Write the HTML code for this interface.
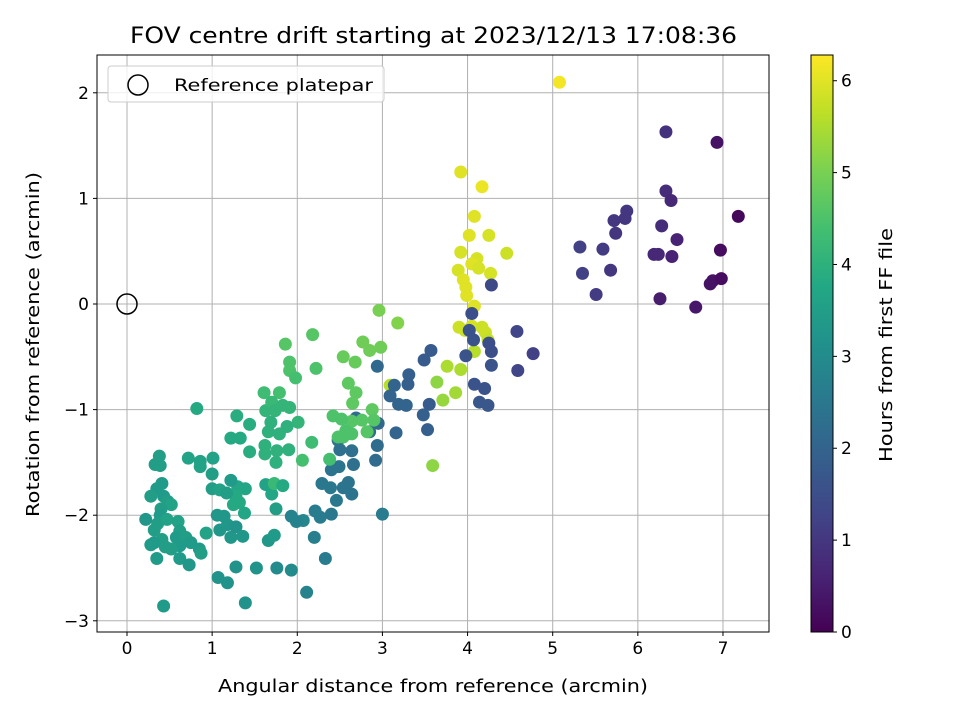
<!DOCTYPE html>
<html><head><meta charset="utf-8"><style>
body{margin:0;background:#fff;}
svg text{font-family:"DejaVu Sans","Liberation Sans",sans-serif;fill:#000;}
</style></head><body>
<svg id="chart" width="960" height="720" xmlns="http://www.w3.org/2000/svg">
<defs><linearGradient id="vir" x1="0" y1="1" x2="0" y2="0">
<stop offset="0" stop-color="#440154"/><stop offset="0.1" stop-color="#482475"/><stop offset="0.2" stop-color="#414487"/><stop offset="0.3" stop-color="#355f8d"/><stop offset="0.4" stop-color="#2a788e"/><stop offset="0.5" stop-color="#21918c"/><stop offset="0.6" stop-color="#22a884"/><stop offset="0.7" stop-color="#44bf70"/><stop offset="0.8" stop-color="#7ad151"/><stop offset="0.9" stop-color="#bddf26"/><stop offset="1" stop-color="#fde725"/>
</linearGradient>
<clipPath id="clip"><rect x="97" y="55" width="672" height="577"/></clipPath></defs>
<g id="grid"></g><g id="marks" clip-path="url(#clip)"></g><g id="axes"></g>
</svg>
<script>
const xVals=[6.33,6.93,6.33,6.39,5.87,5.72,5.85,5.74,6.28,6.46,5.32,5.59,6.19,6.24,6.40,6.97,7.18,5.35,5.68,5.51,6.26,6.85,6.88,6.98,6.68,
5.08,3.92,4.17,4.08,4.02,4.25,3.92,4.11,4.46,4.05,3.89,4.13,4.27,3.95,3.98,3.99,4.08,3.90,3.97,4.05,4.17,4.21,4.24,4.08,3.92,3.76,3.64,3.71,3.86,3.09,3.59,
4.28,4.05,4.02,4.07,3.98,4.25,4.28,4.28,4.58,4.77,4.59,4.08,4.20,4.14,4.24,3.57,3.49,2.94,3.31,3.30,3.14,3.09,3.19,3.28,3.55,3.48,3.53,3.16,2.95,2.85,2.94,2.92,3.00,2.69,2.48,2.50,2.64,2.40,2.49,2.66,2.60,2.29,2.54,2.39,2.64,2.46,2.21,2.27,2.40,2.07,2.20,1.99,1.93,2.33,2.11,1.93,1.76,
2.96,3.18,2.98,2.77,2.85,2.68,2.54,2.60,2.69,2.65,2.88,2.90,2.76,2.64,2.42,2.52,2.57,2.48,2.54,2.64,2.82,2.38,2.18,2.22,1.86,1.91,1.91,1.98,1.79,1.61,2.06,2.17,
0.82,1.29,1.63,1.70,1.74,1.83,1.91,2.01,1.88,1.69,1.66,1.79,1.44,1.22,1.33,1.44,1.62,1.62,1.76,1.90,1.75,1.63,1.70,1.73,1.83,1.30,1.39,1.28,1.32,1.38,1.25,1.75,1.52,1.66,1.73,
0.38,0.39,0.33,0.41,0.35,0.43,0.28,0.48,0.52,0.40,0.39,0.36,0.32,0.47,0.60,0.62,0.58,0.69,0.75,0.62,0.52,0.45,0.41,0.32,0.28,0.35,0.62,0.73,0.43,0.85,0.87,0.93,0.72,0.86,0.86,1.01,1.00,1.00,1.09,1.17,1.22,1.06,1.14,1.18,1.09,1.22,1.28,1.36,1.07,1.18,1.28,1.39,0.22];
const yVals=[1.63,1.53,1.07,0.98,0.88,0.79,0.81,0.67,0.74,0.61,0.54,0.52,0.47,0.47,0.45,0.51,0.83,0.29,0.32,0.09,0.05,0.19,0.22,0.24,-0.03,
2.10,1.25,1.11,0.83,0.65,0.65,0.49,0.43,0.48,0.38,0.32,0.34,0.29,0.23,0.16,0.08,-0.02,-0.22,-0.25,-0.21,-0.22,-0.27,-0.34,-0.45,-0.62,-0.59,-0.74,-0.91,-0.84,-0.77,-1.53,
0.18,-0.09,-0.25,-0.34,-0.49,-0.37,-0.45,-0.58,-0.26,-0.47,-0.63,-0.76,-0.80,-0.93,-0.96,-0.44,-0.53,-0.59,-0.67,-0.76,-0.77,-0.87,-0.95,-0.96,-0.95,-1.05,-1.19,-1.22,-1.13,-1.21,-1.34,-1.48,-1.99,-1.08,-1.29,-1.38,-1.39,-1.57,-1.54,-1.52,-1.69,-1.70,-1.74,-1.74,-1.80,-1.86,-1.96,-2.02,-1.99,-2.05,-2.21,-2.06,-2.01,-2.41,-2.73,-2.52,-2.50,
-0.06,-0.18,-0.41,-0.36,-0.44,-0.55,-0.50,-0.75,-0.84,-0.94,-1.00,-1.10,-1.10,-1.11,-1.06,-1.09,-1.20,-1.26,-1.26,-1.23,-1.21,-1.47,-0.29,-0.61,-0.38,-0.55,-0.63,-0.70,-0.84,-0.84,-1.48,-1.31,
-0.99,-1.06,-1.01,-0.93,-1.01,-0.96,-0.98,-1.12,-1.16,-1.12,-1.21,-1.23,-1.14,-1.27,-1.27,-1.40,-1.34,-1.42,-1.39,-1.38,-1.50,-1.71,-1.80,-1.70,-1.72,-1.73,-1.75,-1.82,-1.88,-1.98,-1.90,-1.94,-2.50,-2.24,-2.19,
-1.44,-1.53,-1.52,-1.70,-1.75,-1.82,-1.82,-1.87,-1.90,-1.94,-2.00,-2.08,-2.14,-2.04,-2.06,-2.15,-2.21,-2.21,-2.26,-2.29,-2.32,-2.30,-2.23,-2.26,-2.28,-2.41,-2.41,-2.47,-2.86,-2.32,-2.36,-2.17,-1.46,-1.49,-1.54,-1.46,-1.61,-1.75,-1.76,-1.79,-1.67,-2.00,-2.01,-2.09,-2.14,-2.21,-2.11,-2.20,-2.59,-2.64,-2.49,-2.83,-2.04];
const hourVals=[0.9,0.3,0.8,0.7,1.0,1.0,1.0,1.0,0.8,0.6,1.2,1.1,0.7,0.7,0.6,0.2,0.1,1.2,1.0,1.1,0.5,0.3,0.3,0.2,0.4,
6.2,6.0,6.1,6.0,6.0,5.9,5.9,5.9,5.8,6.0,5.9,5.9,5.9,6.0,6.0,6.0,6.0,5.8,5.8,5.9,5.8,5.8,5.7,5.6,5.5,5.5,5.2,5.3,5.4,5.6,5.2,
1.4,1.5,1.6,1.6,1.6,1.5,1.5,1.6,1.3,1.2,1.3,1.6,1.6,1.7,1.7,1.8,1.8,2.1,1.9,1.9,2.0,2.0,2.0,2.0,1.8,1.9,1.9,2.0,2.1,2.2,2.2,2.2,2.6,2.2,2.3,2.3,2.3,2.4,2.4,2.3,2.4,2.5,2.4,2.5,2.4,2.5,2.6,2.6,2.5,2.9,2.7,2.8,2.8,2.6,2.8,3.0,3.0,
5.0,5.1,4.9,4.9,4.9,4.8,4.8,4.7,4.7,4.7,4.7,4.6,4.6,4.6,4.5,4.5,4.5,4.5,4.5,4.5,4.6,4.4,4.6,4.5,4.6,4.5,4.5,4.4,4.4,4.3,4.4,4.3,
3.8,3.9,4.1,4.2,4.1,4.1,4.1,4.1,4.0,4.0,4.0,4.0,3.9,3.8,3.8,3.9,4.0,4.0,4.0,4.0,4.0,3.6,3.7,4.2,3.8,3.7,3.7,3.8,3.8,3.7,3.8,3.5,3.2,3.3,3.4,
3.5,3.5,3.5,3.4,3.4,3.4,3.5,3.5,3.6,3.5,3.4,3.5,3.5,3.6,3.6,3.5,3.4,3.5,3.4,3.4,3.5,3.5,3.5,3.4,3.4,3.4,3.4,3.3,3.4,3.4,3.5,3.6,3.6,3.6,3.6,3.6,3.5,3.5,3.6,3.5,3.4,3.3,3.3,3.3,3.3,3.3,3.2,3.3,3.2,3.2,3.2,3.2,3.3];
const xTicks=[0,1,2,3,4,5,6,7];
const yTicks=[-3,-2,-1,0,1,2];
const cTicks=[0,1,2,3,4,5,6];
const hMax=6.28;
const NS="http://www.w3.org/2000/svg";
const L=97,R=769,T=55,B=632;
const sx=v=>127+v*85.14, sy=v=>304-v*105.6;
const cy=v=>632-v/hMax*577;
const stops=["#440154","#482475","#414487","#355f8d","#2a788e","#21918c","#22a884","#44bf70","#7ad151","#bddf26","#fde725"];
function hex(c){return [1,3,5].map(i=>parseInt(c.substr(i,2),16));}
function vir(t){t=Math.max(0,Math.min(1,t))*10;const i=Math.min(9,Math.floor(t)),f=t-i;const a=hex(stops[i]),b=hex(stops[i+1]);return "rgb("+a.map((v,k)=>Math.round(v+(b[k]-v)*f)).join(",")+")";}
function mk(tag,at,parent,txt){const e=document.createElementNS(NS,tag);for(const k in at)e.setAttribute(k,at[k]);if(txt!==undefined)e.textContent=txt;parent.appendChild(e);return e;}
const grid=document.getElementById('grid'),marks=document.getElementById('marks'),axes=document.getElementById('axes');
xTicks.forEach(v=>{const g=mk('line',{x1:sx(v),x2:sx(v),y1:T,y2:B,stroke:'#b0b0b0','stroke-width':1},grid);
mk('line',{x1:sx(v),x2:sx(v),y1:B,y2:B+4,stroke:'#000'},axes);
const lb=mk('text',{x:sx(v),y:B+22,'text-anchor':'middle','font-size':17},axes,String(v));});
yTicks.forEach(v=>{const g=mk('line',{x1:L,x2:R,y1:sy(v),y2:sy(v),stroke:'#b0b0b0','stroke-width':1},grid);
mk('line',{x1:L-4,x2:L,y1:sy(v),y2:sy(v),stroke:'#000'},axes);
const lb=mk('text',{x:L-8,y:sy(v)+6,'text-anchor':'end','font-size':17},axes,v<0?'\u2212'+(-v):String(v));});
xVals.forEach((x,i)=>{const c=mk('circle',{cx:sx(x),cy:sy(yVals[i]),r:6.5,fill:vir(hourVals[i]/hMax)},marks);});
const ref=mk('circle',{cx:sx(0),cy:sy(0),r:10,fill:'none',stroke:'#000','stroke-width':1.5},marks);
const fr=mk('rect',{x:L,y:T,width:R-L,height:B-T,fill:'none',stroke:'#000','stroke-width':1},axes);
const lg=mk('g',{},axes);
mk('rect',{x:108,y:66,width:276,height:36,rx:3,fill:'#fff','fill-opacity':0.8,stroke:'#ccc'},lg);
mk('circle',{cx:138,cy:85,r:10,fill:'none',stroke:'#000','stroke-width':1.5},lg);
mk('text',{x:174,y:91,'font-size':17,textLength:199,lengthAdjust:'spacingAndGlyphs'},lg,'Reference platepar');
const tt=mk('text',{x:130,y:43,'font-size':22,textLength:607,lengthAdjust:'spacingAndGlyphs'},axes,'FOV centre drift starting at 2023/12/13 17:08:36');
const xt=mk('text',{x:218,y:692,'font-size':18,textLength:430,lengthAdjust:'spacingAndGlyphs'},axes,'Angular distance from reference (arcmin)');
const yt=mk('text',{x:39,y:517,'font-size':18,textLength:345,lengthAdjust:'spacingAndGlyphs',transform:'rotate(-90 39 517)'},axes,'Rotation from reference (arcmin)');
const cb=mk('rect',{x:811,y:T,width:22,height:B-T,fill:'url(#vir)',stroke:'#000','stroke-width':1},axes);
cTicks.forEach(v=>{mk('line',{x1:833,x2:837,y1:cy(v),y2:cy(v),stroke:'#000'},axes);
const lb=mk('text',{x:841,y:cy(v)+6,'font-size':17},axes,String(v));});
const ct=mk('text',{x:892,y:462,'font-size':18,textLength:234,lengthAdjust:'spacingAndGlyphs',transform:'rotate(-90 892 462)'},axes,'Hours from first FF file');
</script>
</body></html>
